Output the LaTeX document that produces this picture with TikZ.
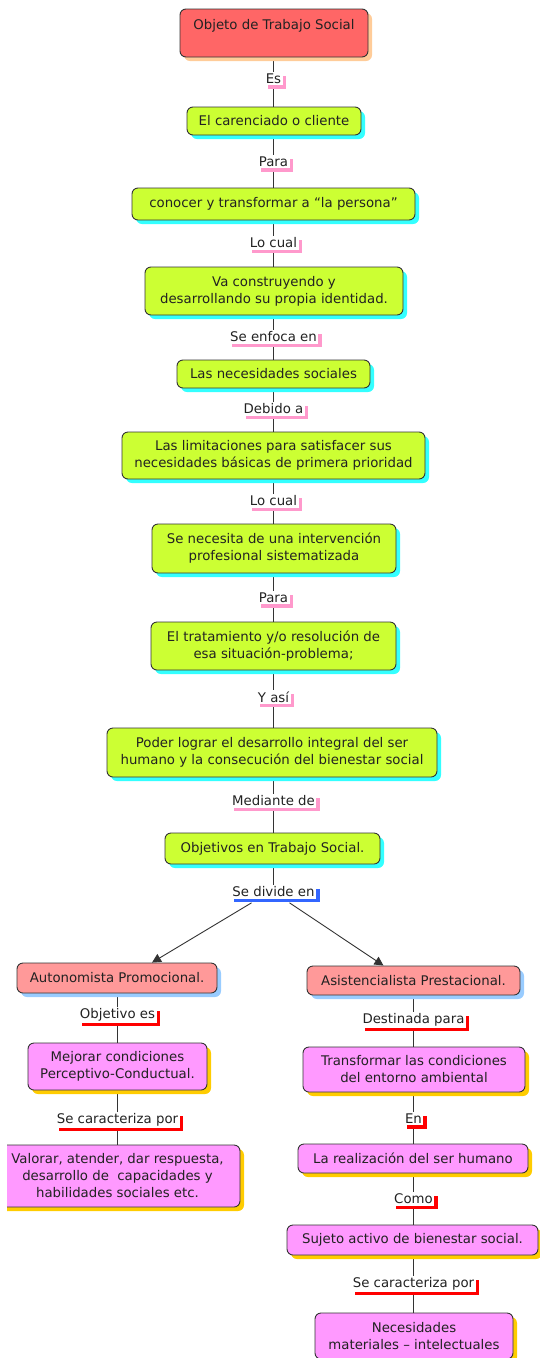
\documentclass[tikz,border=0pt]{standalone}
\usepackage{fontspec}
\setmainfont{DejaVu Sans}
\usetikzlibrary{shadows,arrows.meta}
\definecolor{edge}{HTML}{333333}
\definecolor{txt}{HTML}{222222}
\definecolor{redF}{HTML}{FF6666}
\definecolor{peach}{HTML}{FFCC99}
\definecolor{limeF}{HTML}{CCFF33}
\definecolor{cyanS}{HTML}{33FFFF}
\definecolor{salmonF}{HTML}{FF9999}
\definecolor{lblue}{HTML}{99CCFF}
\definecolor{pinkF}{HTML}{FF99FF}
\definecolor{gold}{HTML}{FFCC00}
\definecolor{lpink}{HTML}{FF99CC}
\definecolor{lblueL}{HTML}{3366FF}
\definecolor{lred}{HTML}{FF0000}
\pgfdeclarelayer{bg}
\pgfsetlayers{bg,main}
\begin{document}
\begin{tikzpicture}[x=1pt,y=-1pt,
  fnt/.style={font=\fontsize{13.3}{17}\selectfont},
  box/.style={fnt, draw=edge, line width=0.9pt, rounded corners=6pt, align=center,
    inner sep=0pt, text=txt},
  bx/.style n args={2}{box, minimum width=#1, minimum height=#2},
  redbox/.style={fill=redF, general shadow={fill=peach, shadow xshift=4pt, shadow yshift=-4pt}},
  grn/.style={fill=limeF, general shadow={fill=cyanS, shadow xshift=4pt, shadow yshift=-4pt}},
  sal/.style={fill=salmonF, general shadow={fill=lblue, shadow xshift=4pt, shadow yshift=-4pt}},
  pnk/.style={fill=pinkF, general shadow={fill=gold, shadow xshift=4pt, shadow yshift=-4pt}},
  lab/.style={fnt, fill=white, inner xsep=1.5pt, inner ysep=1.5pt, text=txt,
    general shadow={fill=#1, shadow xshift=3.5pt, shadow yshift=-3.5pt}},
  conn/.style={draw=edge, line width=0.9pt},
  arr/.style={conn, -{Triangle[length=9pt,width=9pt]}}
]
\useasboundingbox (0,0) rectangle (539,1358);

% main column
\node[bx={188pt}{48pt}, redbox] (b1) at (274,33) {Objeto de Trabajo Social\\\mbox{}};
\node[lab=lpink] (l1) at (273.5,79) {Es};
\node[bx={174pt}{28pt}, grn] (b2) at (274,121) {El carenciado o cliente};
\node[lab=lpink] (l2) at (273.5,162) {Para};
\node[bx={283pt}{32pt}, grn] (b3) at (273.5,204) {conocer y transformar a “la persona”};
\node[lab=lpink] (l3) at (273.5,243) {Lo cual};
\node[bx={258pt}{48pt}, grn] (b4) at (274,291) {Va construyendo y\\desarrollando su propia identidad.};
\node[lab=lpink] (l4) at (273.5,337) {Se enfoca en};
\node[bx={193pt}{28pt}, grn] (b5) at (273.5,374) {Las necesidades sociales};
\node[lab=lpink] (l5) at (273.5,409) {Debido a};
\node[bx={303pt}{47pt}, grn] (b6) at (273.5,455.5) {Las limitaciones para satisfacer sus\\necesidades básicas de primera prioridad};
\node[lab=lpink] (l6) at (273.5,501) {Lo cual};
\node[bx={244pt}{49pt}, grn] (b7) at (274,548.5) {Se necesita de una intervención\\profesional sistematizada};
\node[lab=lpink] (l7) at (273.5,598) {Para};
\node[bx={245pt}{48pt}, grn] (b8) at (273.5,646) {El tratamiento y/o resolución de\\esa situación-problema;};
\node[lab=lpink] (l8) at (273.5,697) {Y así};
\node[bx={330pt}{49pt}, grn] (b9) at (272,752.5) {Poder lograr el desarrollo integral del ser\\humano y la consecución del bienestar social};
\node[lab=lpink] (l9) at (273.5,801) {Mediante de};
\node[bx={215pt}{31pt}, grn] (b10) at (272.5,848.5) {Objetivos en Trabajo Social.};
\node[lab=lblueL] (l10) at (273.5,892) {Se divide en};

% left column
\node[bx={200pt}{30pt}, sal] (a1) at (117,978) {Autonomista Promocional.};
\node[lab=lred] (m1) at (117.5,1015) {Objetivo es};
\node[bx={179pt}{47pt}, pnk] (a2) at (117.5,1066.5) {Mejorar condiciones\\Perceptivo-Conductual.};
\node[lab=lred] (m2) at (117.5,1120) {Se caracteriza por};
\begin{scope}
\clip (7,1130) rectangle (300,1230);
\node[bx={245pt}{62pt}, pnk] (a3) at (117.5,1176) {Valorar, atender, dar respuesta,\\desarrollo de~ capacidades y\\habilidades sociales etc.};
\end{scope}

% right column
\node[bx={213pt}{29pt}, sal] (c1) at (413.5,980.5) {Asistencialista Prestacional.};
\node[lab=lred] (n1) at (413.5,1020) {Destinada para};
\node[bx={222pt}{45pt}, pnk] (c2) at (414,1069.5) {Transformar las condiciones\\del entorno ambiental};
\node[lab=lred] (n2) at (413.5,1119) {En};
\node[bx={230pt}{29pt}, pnk] (c3) at (413,1158.5) {La realización del ser humano};
\node[lab=lred] (n3) at (413.5,1199) {Como};
\node[bx={251pt}{30pt}, pnk] (c4) at (412.5,1240) {Sujeto activo de bienestar social.};
\node[lab=lred] (n4) at (413.5,1284) {Se caracteriza por};
\node[bx={198pt}{46pt}, pnk] (c5) at (414,1336) {Necesidades\\materiales – intelectuales};

\begin{pgfonlayer}{bg}
\draw[conn] (b1.south -| l1) -- (l1) -- (b2.north -| l1);
\draw[conn] (b2.south -| l2) -- (l2) -- (b3.north -| l2);
\draw[conn] (b3.south -| l3) -- (l3) -- (b4.north -| l3);
\draw[conn] (b4.south -| l4) -- (l4) -- (b5.north -| l4);
\draw[conn] (b5.south -| l5) -- (l5) -- (b6.north -| l5);
\draw[conn] (b6.south -| l6) -- (l6) -- (b7.north -| l6);
\draw[conn] (b7.south -| l7) -- (l7) -- (b8.north -| l7);
\draw[conn] (b8.south -| l8) -- (l8) -- (b9.north -| l8);
\draw[conn] (b9.south -| l9) -- (l9) -- (b10.north -| l9);
\draw[conn] (b10.south -| l10) -- (l10);
\draw[conn] (a1.south -| m1) -- (m1) -- (a2.north -| m1);
\draw[conn] (a2.south -| m2) -- (m2) -- (a3.north -| m2);
\draw[conn] (c1.south -| n1) -- (n1) -- (c2.north -| n1);
\draw[conn] (c2.south -| n2) -- (n2) -- (c3.north -| n2);
\draw[conn] (c3.south -| n3) -- (n3) -- (c4.north -| n3);
\draw[conn] (c4.south -| n4) -- (n4) -- (c5.north -| n4);
\end{pgfonlayer}
\draw[arr] ([xshift=-22pt,yshift=-4pt]l10.south) -- ([xshift=35pt]a1.north);
\draw[arr] ([xshift=16pt,yshift=-4pt]l10.south) -- ([xshift=-30pt]c1.north);
\end{tikzpicture}
\end{document}
